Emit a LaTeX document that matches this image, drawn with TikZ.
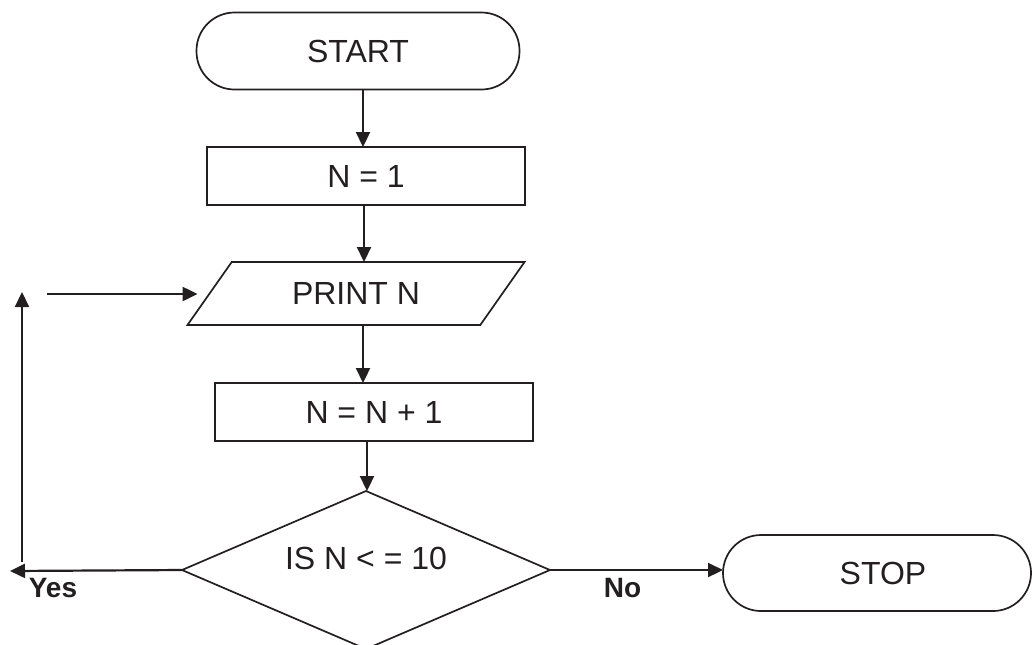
\documentclass[tikz,border=0pt]{standalone}
\usepackage{fontspec}
\setmainfont{Liberation Sans}
\usetikzlibrary{shapes.geometric,arrows.meta}

\definecolor{ink}{HTML}{231F20}
\tikzstyle{terminal}=[draw, rounded corners=19pt, inner sep=0pt, outer sep=0pt]
\tikzstyle{process}=[draw, minimum width=159pt, minimum height=29pt,
                     inner sep=0pt, outer sep=0pt]
\tikzstyle{io}=[draw, trapezium, trapezium left angle=44, trapezium right angle=136,
                trapezium stretches=true, minimum width=169pt, minimum height=31.5pt,
                inner sep=0pt, outer sep=0pt]
\tikzstyle{decision}=[draw, diamond, minimum width=184pt, minimum height=79pt,
                      inner sep=0pt, outer sep=0pt]
\tikzstyle{answer}=[inner sep=0pt, font=\fontsize{14}{17}\selectfont\bfseries]
\tikzstyle{flow} = [draw, line width=1.1pt, -{Triangle[length=7.5pt,width=7pt]}]

\begin{document}
\begin{tikzpicture}[x=0.5pt, y=-0.5pt, line width=0.85pt, color=ink,
                    font=\fontsize{16}{19}\selectfont]
    \useasboundingbox (0,0) rectangle (1032,644);
    % First we draw the blocks
    \node[terminal, minimum width=161.5pt, minimum height=38.5pt] (start) at (358,51) {START};
    \node[process] (init) at (366,176) {N = 1};
    \node[io] (print) at (356,293.5) {PRINT N};
    \node[process] (incr) at (374,412) {N = N + 1};
    \node[decision, label={[yshift=6pt]center:IS N < = 10}] (test) at (366,570) {};
    \node[terminal, minimum width=154pt, minimum height=38pt] (stop) at (877,573) {\hspace{6pt}STOP};
    % Connect blocks downwards
    \foreach \src/\dst/\dx in {start/init/2.5pt, init/print/-1pt,
                               print/incr/3.5pt, incr/test/-3.5pt}
      \path[flow] ([xshift=\dx]\src.south) -- ([xshift=\dx]\src.south |- \dst.north);
    % Loop back and exit
    \coordinate (yesend) at (10,571);
    \coordinate (loopbot) at (22,562);
    \coordinate (looptop) at (22,292);
    \coordinate (loopin) at (47,294);
    \path[flow] (test.west) -- (yesend);
    \path[flow] (loopbot) -- (looptop);
    \path[flow] (loopin) -- ([xshift=-6pt]print.west |- loopin);
    \path[flow] (test.east) -- (test.east -| stop.west);
    \node[answer, anchor=base west] (yes) at (28,597) {Yes};
    \node[answer, anchor=base west] (no) at (603,597) {No};
\end{tikzpicture}
\end{document}
